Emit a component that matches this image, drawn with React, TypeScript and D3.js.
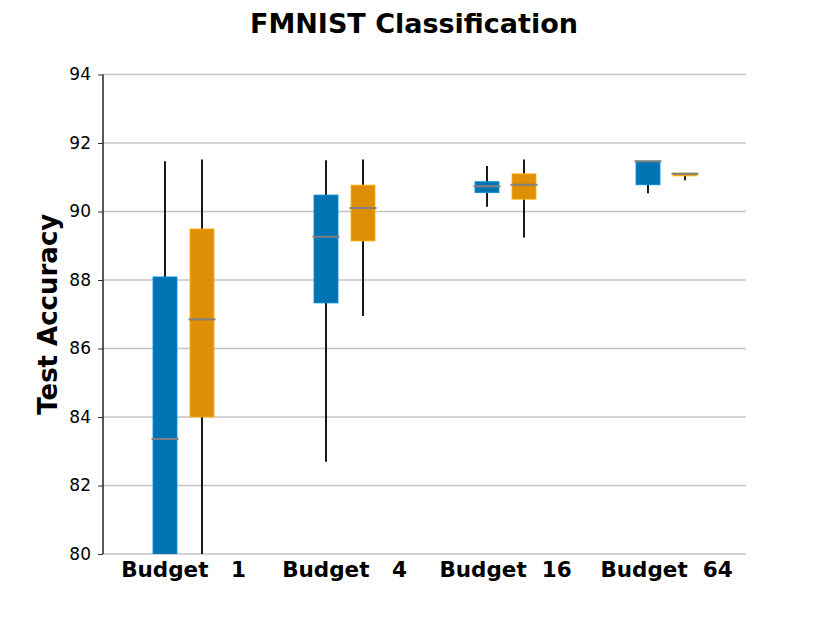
import { useEffect, useRef } from 'react';
import * as d3 from 'd3';

const budgets = ['Budget   1', 'Budget   4', 'Budget  16', 'Budget  64'];
const series = ['A', 'B'];
const seriesColors = ['#0173B2', '#DE8F05'];

// [whiskerLow, q1, median, q3, whiskerHigh] per budget
const statsA = [
  [75.0, 78.5, 83.36, 88.09, 91.47],
  [82.69, 87.33, 89.26, 90.48, 91.5],
  [90.14, 90.55, 90.74, 90.87, 91.33],
  [90.53, 90.78, 91.47, 91.47, 91.47],
];
const statsB = [
  [76.0, 84.0, 86.85, 89.49, 91.52],
  [86.95, 89.14, 90.1, 90.77, 91.52],
  [89.24, 90.36, 90.78, 91.1, 91.52],
  [90.91, 91.04, 91.1, 91.12, 91.12],
];
const yTicks = [80, 82, 84, 86, 88, 90, 92, 94];

const W = 830;
const H = 623;

export default function App() {
  const svgRef = useRef<SVGSVGElement>(null);

  useEffect(() => {
    if (!svgRef.current) return;
    const svg = d3.select(svgRef.current);
    svg.selectAll('*').remove();

    const left = 103;
    const right = 747;
    const top = 74.5;
    const bottom = 554;
    const font = 'DejaVu Sans, sans-serif';

    const x = d3.scaleBand().domain(budgets).range([left, right]);
    const sub = d3.scalePoint().domain(series).range([-18.5, 18.5]);
    const y = d3.scaleLinear().domain([80, 94]).range([bottom, top]);
    const boxW = 24;

    svg.append('defs').append('clipPath').attr('id', 'plot-clip')
      .append('rect')
      .attr('x', left).attr('y', top)
      .attr('width', right - left).attr('height', bottom - top);

    // Grid lines
    svg.append('g')
      .selectAll('line')
      .data(yTicks)
      .join('line')
      .attr('x1', left).attr('x2', right - 1)
      .attr('y1', d => y(d)).attr('y2', d => y(d))
      .attr('stroke', '#c4c4c4')
      .attr('stroke-width', 1.6);

    // Y axis
    const yAxis = svg.append('g')
      .attr('transform', `translate(${left},0)`)
      .call(d3.axisLeft(y).tickValues(yTicks).tickSize(5).tickPadding(7).tickFormat(d3.format('d')));
    yAxis.select('.domain').attr('stroke', '#000').attr('stroke-width', 1.3)
      .attr('d', `M0,${bottom}V${top}`);
    yAxis.selectAll('.tick line').attr('stroke', '#333').attr('stroke-width', 1);
    yAxis.selectAll('.tick text')
      .attr('font-family', font)
      .attr('font-size', '17px')
      .attr('fill', '#000');

    const plot = svg.append('g').attr('clip-path', 'url(#plot-clip)');

    [statsA, statsB].forEach((stats, si) => {
      const color = seriesColors[si];
      const g = plot.append('g');
      const cx = (i: number) => (x(budgets[i]) as number) + x.bandwidth() / 2 + (sub(series[si]) as number);

      stats.forEach((s, i) => {
        const [lo, q1, med, q3, hi] = s;
        const c = cx(i);
        g.append('line')
          .attr('x1', c).attr('x2', c)
          .attr('y1', y(q3)).attr('y2', y(hi))
          .attr('stroke', '#000').attr('stroke-width', 1.8);
        g.append('line')
          .attr('x1', c).attr('x2', c)
          .attr('y1', y(q1)).attr('y2', y(lo))
          .attr('stroke', '#000').attr('stroke-width', 1.8);
        g.append('rect')
          .attr('x', c - boxW / 2)
          .attr('y', y(q3))
          .attr('width', boxW)
          .attr('height', Math.max(0.5, y(q1) - y(q3)))
          .attr('fill', color)
          .attr('stroke', d3.color(color)!.brighter(0.6).toString())
          .attr('stroke-width', 0.8);
        g.append('line')
          .attr('x1', c - boxW / 2 - 1.5).attr('x2', c + boxW / 2 + 1.5)
          .attr('y1', y(med)).attr('y2', y(med))
          .attr('stroke', '#808080').attr('stroke-width', 2);
      });
    });

    // X labels
    svg.append('g')
      .selectAll('text')
      .data(budgets)
      .join('text')
      .attr('x', d => (x(d) as number) + x.bandwidth() / 2)
      .attr('y', 577)
      .attr('text-anchor', 'middle')
      .attr('font-family', font)
      .attr('font-size', '21.5px')
      .attr('font-weight', 'bold')
      .attr('xml:space', 'preserve')
      .style('white-space', 'pre')
      .text(d => d);

    // Title
    svg.append('text')
      .attr('x', 414)
      .attr('y', 33)
      .attr('text-anchor', 'middle')
      .attr('font-family', font)
      .attr('font-size', '27px')
      .attr('font-weight', 'bold')
      .text('FMNIST Classification');

    // Y label
    svg.append('text')
      .attr('transform', `translate(57,${(top + bottom) / 2}) rotate(-90)`)
      .attr('text-anchor', 'middle')
      .attr('font-family', font)
      .attr('font-size', '26px')
      .attr('font-weight', 'bold')
      .text('Test Accuracy');
  }, []);

  return (
    <svg
      ref={svgRef}
      width={W}
      height={H}
      style={{ position: 'absolute', left: 0, top: 0, background: '#fff' }}
    />
  );
}
